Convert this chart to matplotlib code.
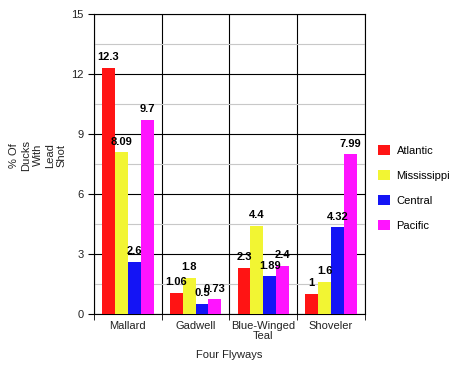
import numpy as np
import matplotlib.pyplot as plt
from matplotlib import font_manager

species = ["Mallard", "Gadwell", "Blue-Winged\nTeal", "Shoveler"]
flyways = ["Atlantic", "Mississippi", "Central", "Pacific"]
atlantic = [12.3, 1.06, 2.3, 1]
mississippi = [8.09, 1.8, 4.4, 1.6]
central = [2.6, 0.5, 1.89, 4.32]
pacific = [9.7, 0.73, 2.4, 7.99]
colors = ["#ff1414", "#f2f533", "#1414f5", "#ff14ff"]

series = [atlantic, mississippi, central, pacific]

# make sure the regular-width Liberation Sans is used, not the Narrow one
fm = font_manager.fontManager
fm.ttflist = [f for f in fm.ttflist if "narrow" not in f.fname.lower()]
plt.rcParams["font.family"] = ["Liberation Sans", "DejaVu Sans"]

fig = plt.figure(figsize=(4.74, 3.65), dpi=100)
ax = fig.add_axes([0.198, 0.140, 0.572, 0.822])

x = np.arange(len(species))
w = 0.19
for i, (vals, name, col) in enumerate(zip(series, flyways, colors)):
    pos = x + (i - 1.5) * w
    ax.bar(pos, vals, width=w, color=col, label=name, zorder=3)
    for p, v in zip(pos, vals):
        ax.annotate(f"{v:g}", (p, v), xytext=(0, 4), textcoords="offset points",
                    ha="center", va="bottom", fontsize=8, fontweight="bold", zorder=4)

ax.set_xlim(-0.5, 3.5)
ax.set_ylim(0, 15)
ax.set_yticks([0, 3, 6, 9, 12, 15])
ax.set_yticks(np.arange(1.5, 15, 3), minor=True)
ax.set_xticks(x)
ax.set_xticklabels(species, fontsize=8, linespacing=1.0, color="#222222")
ax.set_xticks(np.arange(-0.5, 4, 1), minor=True)
ax.tick_params(axis="x", which="major", length=0, pad=5)
ax.tick_params(axis="x", which="minor", length=4, direction="out")
ax.tick_params(axis="y", which="major", labelsize=8, length=4, direction="out",
               labelcolor="#222222")
ax.tick_params(axis="y", which="minor", length=0)

ax.grid(axis="y", which="major", color="black", linewidth=0.8, zorder=0)
ax.grid(axis="y", which="minor", color="#c8c8c8", linewidth=0.8, zorder=0)
ax.grid(axis="x", which="minor", color="black", linewidth=0.8, zorder=0)
for s in ax.spines.values():
    s.set_linewidth(0.8)

fig.text(0.483, 0.027, "Four Flyways", fontsize=8, ha="center", va="center",
         color="#222222")
fig.text(0.08, 0.575, "% Of\nDucks\nWith\nLead\nShot", rotation=90, fontsize=8,
         ha="center", va="center", multialignment="center", linespacing=1.25,
         color="#222222")

ax.legend(loc="center left", bbox_to_anchor=(1.01, 0.42), frameon=False,
          fontsize=8, handlelength=1.1, handleheight=1.1, labelspacing=1.25,
          handletextpad=0.6)

fig.savefig("out.png", dpi=100)
